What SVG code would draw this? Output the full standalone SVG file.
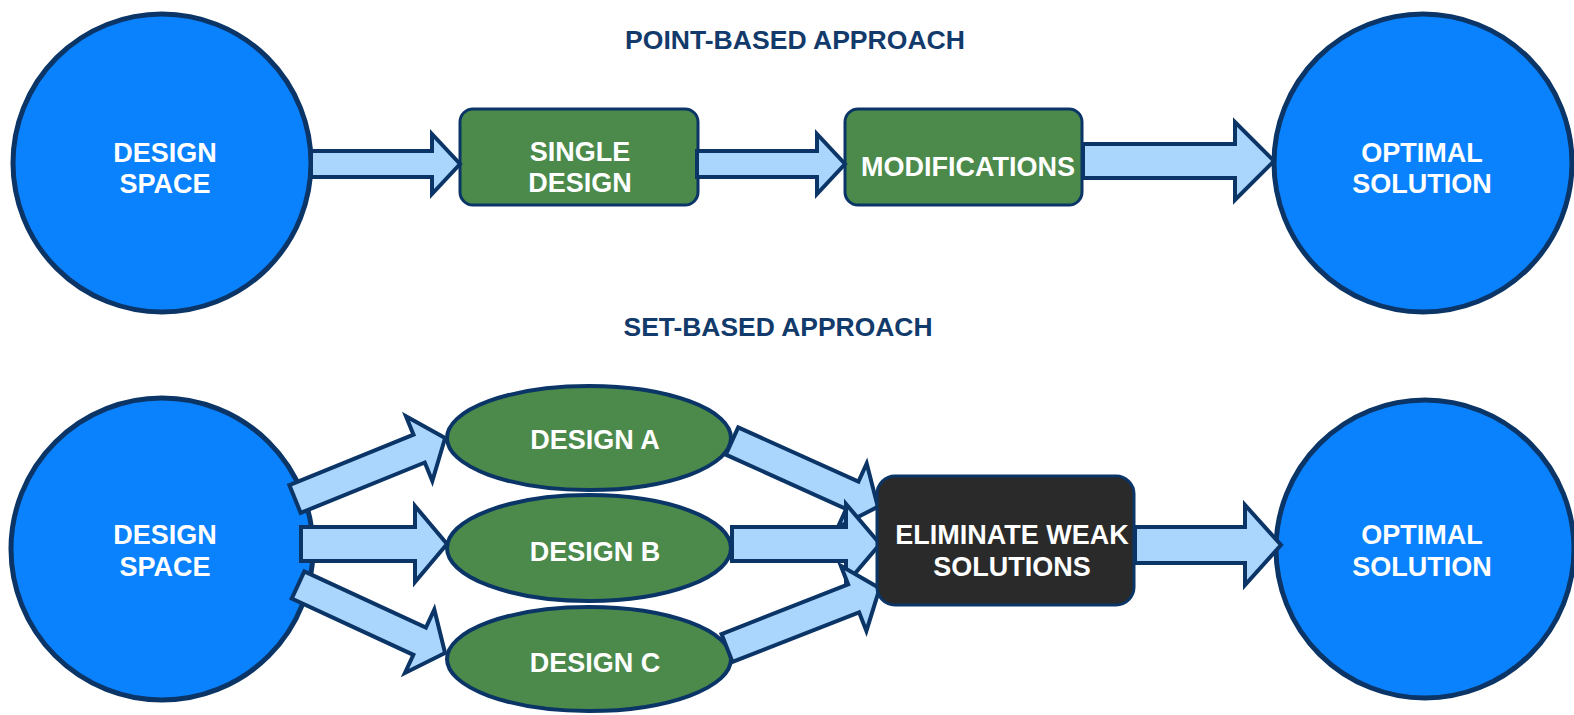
<svg xmlns="http://www.w3.org/2000/svg" width="1574" height="715" viewBox="0 0 1574 715">
<style>
.circ{fill:#0a82fe;stroke:#0b3566;stroke-width:5}
.box{fill:#4b8a4b;stroke:#0b3566;stroke-width:3}
.ell{fill:#4b8a4b;stroke:#0b3566;stroke-width:4}
.dark{fill:#2a2a2a;stroke:#0b3566;stroke-width:3}
.arr{fill:#aad5fc;stroke:#0b3566;stroke-width:4;stroke-linejoin:miter;stroke-miterlimit:10}
.lbl{font-family:"Liberation Sans",Arial,sans-serif;font-weight:bold;font-size:27px;fill:#ffffff;text-anchor:middle}
.ttl{font-family:"Liberation Sans",Arial,sans-serif;font-weight:bold;font-size:25px;fill:#123a6b;text-anchor:middle}
</style>
<text class="ttl" x="795" y="49" textLength="340" lengthAdjust="spacingAndGlyphs">POINT-BASED APPROACH</text>
<text class="ttl" x="778" y="336" textLength="309" lengthAdjust="spacingAndGlyphs">SET-BASED APPROACH</text>
<g id="ds1"><circle class="circ" cx="162" cy="163" r="149"/><text class="lbl" x="165" y="162">DESIGN</text><text class="lbl" x="165" y="193">SPACE</text></g>
<g id="single"><rect class="box" x="460" y="109" width="238" height="96" rx="13"/><text class="lbl" x="580" y="161">SINGLE</text><text class="lbl" x="580" y="192">DESIGN</text></g>
<g id="mods"><rect class="box" x="845" y="109" width="237" height="96" rx="13"/><text class="lbl" x="968" y="176">MODIFICATIONS</text></g>
<g id="opt1"><circle class="circ" cx="1423" cy="163" r="149"/><text class="lbl" x="1422" y="162">OPTIMAL</text><text class="lbl" x="1422" y="193">SOLUTION</text></g>
<g id="ds2"><circle class="circ" cx="162" cy="549" r="151"/><text class="lbl" x="165" y="544">DESIGN</text><text class="lbl" x="165" y="576">SPACE</text></g>
<g id="desA"><ellipse class="ell" cx="589" cy="438" rx="142" ry="52"/><text class="lbl" x="595" y="449">DESIGN A</text></g>
<g id="desB"><ellipse class="ell" cx="589" cy="548" rx="142" ry="53"/><text class="lbl" x="595" y="561">DESIGN B</text></g>
<g id="desC"><ellipse class="ell" cx="589" cy="659" rx="142" ry="52"/><text class="lbl" x="595" y="672">DESIGN C</text></g>
<g id="opt2"><circle class="circ" cx="1425" cy="549" r="149"/><text class="lbl" x="1422" y="544">OPTIMAL</text><text class="lbl" x="1422" y="576">SOLUTION</text></g>
<g id="connectors">
<path class="arr" transform="translate(311,164)" d="M0,-13 H121 V-30 L149,0 L121,30 V13 H0 Z"/>
<path class="arr" transform="translate(697,164)" d="M0,-13 H120 V-30 L148,0 L120,30 V13 H0 Z"/>
<path class="arr" transform="translate(1083,161)" d="M0,-17 H152 V-39 L191,0 L152,39 V17 H0 Z"/>
<path class="arr" transform="translate(295,499) rotate(-22.1)" d="M0,-15 H134 V-35 L162,0 L134,35 V15 H0 Z"/>
<path class="arr" transform="translate(301,544)" d="M0,-17 H114 V-38 L146,0 L114,38 V17 H0 Z"/>
<path class="arr" transform="translate(298,585) rotate(24.8)" d="M0,-15 H134 V-35 L162,0 L134,35 V15 H0 Z"/>
<path class="arr" transform="translate(732,441) rotate(24.3)" d="M0,-15 H132 V-35 L160,0 L132,35 V15 H0 Z"/>
<path class="arr" transform="translate(732,544)" d="M0,-17 H114 V-40 L148,0 L114,40 V17 H0 Z"/>
<path class="arr" transform="translate(727,648) rotate(-21.4)" d="M0,-15 H136 V-35 L164,0 L136,35 V15 H0 Z"/>
<path class="arr" transform="translate(1135,545)" d="M0,-18 H110 V-40 L146,0 L110,40 V18 H0 Z"/>
</g>
<g id="elim"><rect class="dark" x="877" y="476" width="257" height="129" rx="18"/><text class="lbl" x="1012" y="544">ELIMINATE WEAK</text><text class="lbl" x="1012" y="576">SOLUTIONS</text></g>
</svg>
